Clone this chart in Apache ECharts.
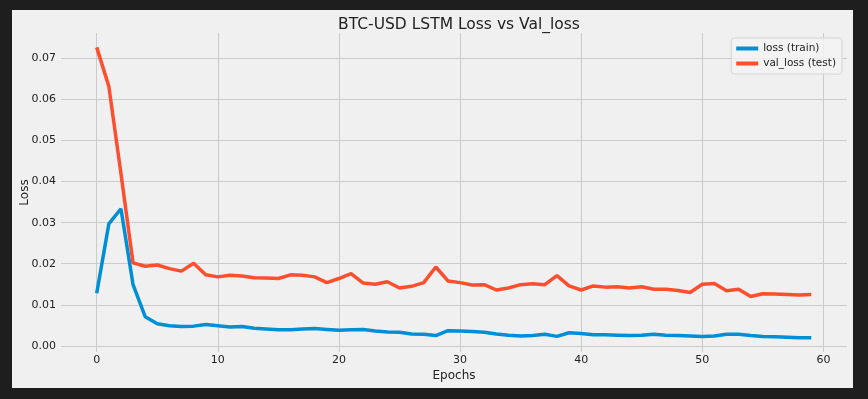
<!DOCTYPE html>
<html>
<head>
<meta charset="UTF-8">
<script src="https://cdn.jsdelivr.net/npm/echarts@6/dist/echarts.min.js"></script>
<style>
  html, body { margin: 0; padding: 0; width: 868px; height: 399px; background: #1e1e1e; overflow: hidden; }
  #fig { position: absolute; left: 12px; top: 10px; width: 841px; height: 378px; background: #f0f0f0; }
</style>
</head>
<body>
<div id="fig"></div>
<script>
// loss per epoch
var trainLoss = [
  0.0128, 0.0297, 0.0334, 0.0149, 0.0071, 0.0054, 0.0049, 0.0047, 0.0048, 0.0052,
  0.0049, 0.0046, 0.0047, 0.0043, 0.0041, 0.0039, 0.0039, 0.0041, 0.0042, 0.0040,
  0.0038, 0.0039, 0.0040, 0.0036, 0.0034, 0.0033, 0.0029, 0.0028, 0.0025, 0.0037,
  0.0036, 0.0035, 0.0033, 0.0029, 0.0026, 0.0024, 0.0025, 0.0028, 0.0023, 0.0032,
  0.0030, 0.0027, 0.0027, 0.0026, 0.0025, 0.0026, 0.0028, 0.0026, 0.0025, 0.0024,
  0.0023, 0.0024, 0.0028, 0.0028, 0.0025, 0.0023, 0.0022, 0.0021, 0.0020, 0.0020
];
var valLoss = [
  0.0727, 0.0632, 0.0420, 0.0202, 0.0194, 0.0197, 0.0188, 0.0182, 0.0201, 0.0173,
  0.0168, 0.0172, 0.0170, 0.0166, 0.0165, 0.0164, 0.0173, 0.0172, 0.0168, 0.0154,
  0.0164, 0.0176, 0.0153, 0.0150, 0.0156, 0.0141, 0.0145, 0.0154, 0.0192, 0.0158,
  0.0154, 0.0148, 0.0149, 0.0136, 0.0141, 0.0149, 0.0151, 0.0149, 0.0171, 0.0146,
  0.0136, 0.0146, 0.0143, 0.0144, 0.0141, 0.0144, 0.0138, 0.0138, 0.0135, 0.0130,
  0.0150, 0.0152, 0.0134, 0.0138, 0.0120, 0.0127, 0.0126, 0.0125, 0.0124, 0.0125
];
var seriesNames = ['loss (train)', 'val_loss (test)'];
var seriesColors = ['#008fd5', '#fc4f30'];

function toPairs(arr) {
  return arr.map(function (v, i) { return [i, v]; });
}

var txt = '#222222';
var chart = echarts.init(document.getElementById('fig'));
chart.setOption({
  backgroundColor: '#f0f0f0',
  animation: false,
  textStyle: { fontFamily: 'DejaVu Sans' },
  title: {
    text: 'BTC-USD LSTM Loss vs Val_loss',
    left: 442, textAlign: 'center', top: 2,
    textStyle: { fontSize: 15.5, fontWeight: 'normal', color: txt, fontFamily: 'DejaVu Sans' }
  },
  legend: {
    orient: 'vertical',
    right: 11, top: 28,
    padding: [5, 6, 5, 5],
    itemGap: 4,
    itemWidth: 22, itemHeight: 4,
    backgroundColor: 'rgba(244,244,244,0.8)',
    borderColor: '#d4d4d4', borderWidth: 1, borderRadius: 3,
    textStyle: { fontSize: 10.5, color: txt, fontFamily: 'DejaVu Sans' },
    data: seriesNames.map(function (n) { return { name: n, icon: 'rect' }; })
  },
  grid: { left: 49, right: 6, top: 23, bottom: 36, containLabel: false, outerBoundsMode: 'none' },
  xAxis: {
    type: 'value',
    min: -2.95, max: 61.95, splitNumber: 6,
    name: 'Epochs', nameLocation: 'middle', nameGap: 18, nameMoveOverlap: false,
    nameTextStyle: { fontSize: 12, color: txt },
    axisLine: { show: false }, axisTick: { show: false },
    axisLabel: { fontSize: 11, color: txt, margin: 3, showMinLabel: false, showMaxLabel: false },
    splitLine: { show: true, showMinLine: false, showMaxLine: false, lineStyle: { color: '#cbcbcb', width: 1 } }
  },
  yAxis: {
    type: 'value',
    min: -0.0015, max: 0.0762, splitNumber: 8,
    name: 'Loss', nameLocation: 'middle', nameGap: 30, nameMoveOverlap: false,
    nameTextStyle: { fontSize: 12, color: txt },
    axisLine: { show: false }, axisTick: { show: false },
    axisLabel: {
      fontSize: 11, color: txt, margin: 5, showMinLabel: false, showMaxLabel: false,
      formatter: function (v) { return v.toFixed(2); }
    },
    splitLine: { show: true, showMinLine: false, showMaxLine: false, lineStyle: { color: '#cbcbcb', width: 1 } }
  },
  series: [
    {
      name: seriesNames[0], type: 'line', data: toPairs(trainLoss),
      showSymbol: false, symbol: 'none',
      lineStyle: { color: seriesColors[0], width: 3.5 },
      itemStyle: { color: seriesColors[0] }
    },
    {
      name: seriesNames[1], type: 'line', data: toPairs(valLoss),
      showSymbol: false, symbol: 'none',
      lineStyle: { color: seriesColors[1], width: 3.5 },
      itemStyle: { color: seriesColors[1] }
    }
  ]
});
</script>
</body>
</html>
